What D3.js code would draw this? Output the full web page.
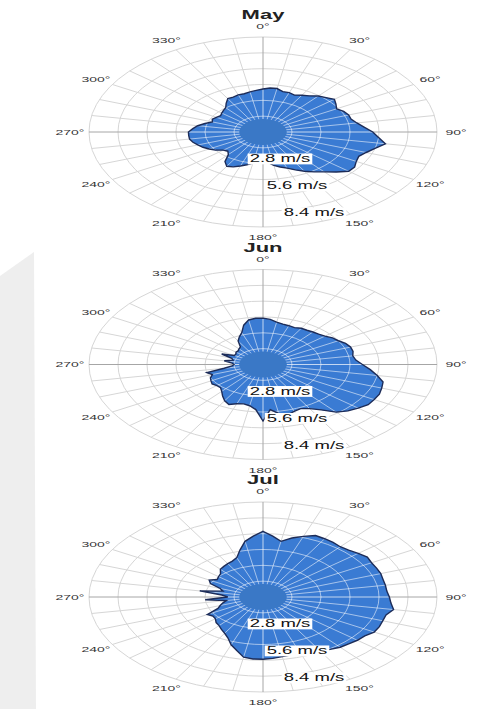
<!DOCTYPE html>
<html>
<head>
<meta charset="utf-8">
<script src="https://cdn.jsdelivr.net/npm/d3@7/dist/d3.min.js"></script>
<style>
  html, body { margin: 0; padding: 0; background: #ffffff; }
  svg { display: block; }
</style>
</head>
<body>
<svg id="chart" width="483" height="709"></svg>
<script>
// Monthly mean wind speed by direction (m/s), one value every 5 degrees, clockwise from north
const months = ["May", "Jun", "Jul"];
const directions = d3.range(0, 360, 5);

const speedMay = [
  3.8, 3.9, 3.9, 3.7, 3.7, 3.6, 3.75, 3.9, 4.15, 4.3, 4.5, 4.3,
  4.1, 4.3, 4.4, 4.4, 4.6, 4.9, 5.3, 5.6, 6.0, 5.6, 5.3, 5.1,
  5.2, 5.4, 5.4, 5.0, 4.6, 4.3, 4.0, 3.7, 3.4, 3.2, 3.0, 2.7,
  2.5, 2.6, 2.8, 3.0, 3.2, 3.4, 3.5, 3.2, 2.6, 2.4, 2.5, 2.8,
  3.0, 3.2, 3.35, 3.5, 3.6, 3.6, 3.6, 3.4, 3.2, 2.9, 2.6, 2.7,
  2.6, 2.5, 2.6, 2.7, 2.8, 3.1, 3.4, 3.4, 3.5, 3.5, 3.6, 3.7
];
const speedJun = [
  4.1, 4.0, 3.8, 3.7, 3.65, 3.6, 3.7, 3.7, 3.75, 3.8, 3.9, 4.1,
  4.2, 4.4, 4.5, 4.5, 4.4, 4.5, 4.8, 5.2, 5.6, 6.0, 6.1, 6.2,
  6.2, 6.2, 6.0, 5.8, 5.5, 4.9, 4.5, 4.3, 4.4, 4.6, 4.4, 4.0,
  5.0, 4.0, 3.7, 3.6, 3.7, 3.9, 3.7, 3.4, 3.1, 2.9, 2.9, 3.0,
  2.9, 2.8, 2.6, 2.8, 1.9, 1.5, 1.4, 1.5, 1.9, 1.5, 1.6, 2.2,
  1.6, 1.6, 1.7, 1.7, 1.8, 1.9, 2.4, 2.7, 3.0, 3.6, 4.0, 4.1
];
const speedJul = [
  5.8, 5.4, 5.0, 5.4, 5.7, 6.0, 5.95, 5.9, 5.8, 5.85, 6.0, 6.15,
  6.05, 6.05, 6.05, 6.0, 6.0, 6.0, 6.1, 6.2, 6.4, 6.15, 6.15, 6.2,
  6.2, 6.0, 5.95, 5.85, 5.8, 5.65, 5.5, 5.4, 5.3, 5.3, 5.35, 5.45,
  5.5, 5.5, 5.4, 4.9, 4.5, 4.0, 3.7, 3.5, 3.3, 3.2, 3.0, 2.95,
  3.1, 2.4, 2.2, 2.0, 1.8, 2.8, 1.7, 2.0, 3.1, 2.0, 2.2, 2.8,
  3.0, 2.7, 2.8, 2.9, 3.2, 3.3, 3.4, 3.5, 3.7, 4.3, 5.0, 5.4
];
const monthSpeeds = [speedMay, speedJun, speedJul];

const calmSpeed = 1.15;                       // radius of the central calm disc
const ringValues = [1.4, 2.8, 4.2, 5.6, 7.0, 8.4];
const ringLabelValues = [2.8, 5.6, 8.4];
const angleTicks = [0, 30, 60, 90, 120, 150, 180, 210, 240, 270, 300, 330];
const spokeAngles = d3.range(0, 360, 10);

// ---- layout ----
const cx = 263;
const centersY = [132, 364.5, 597];
const outerR = 174;          // horizontal radius of the outer ring
const squash = 0.546;        // vertical compression of each rose
const labelR = 193;
const radialLabelAngle = 161;

const rScale = d3.scaleLinear().domain([0, 8.4]).range([0, outerR]);
const toRad = d => d * Math.PI / 180;

const svg = d3.select("#chart");

// pale panel along the left edge
svg.append("path")
  .attr("d", "M0,276 L34,252 L36,709 L0,709 Z")
  .attr("fill", "#eeeeee");

const radialLine = d3.lineRadial()
  .angle(d => toRad(d.dir))
  .radius(d => rScale(d.v))
  .curve(d3.curveLinearClosed);

function drawGrid(g, ringColor, spokeColor, axisColor) {
  g.selectAll("circle.ring").data(ringValues).join("circle")
    .attr("class", "ring")
    .attr("r", d => rScale(d))
    .attr("fill", "none")
    .attr("stroke", ringColor)
    .attr("stroke-width", 1)
    .attr("vector-effect", "non-scaling-stroke");
  g.selectAll("line.spoke").data(spokeAngles).join("line")
    .attr("class", "spoke")
    .attr("x1", 0).attr("y1", 0)
    .attr("x2", d => outerR * Math.sin(toRad(d)))
    .attr("y2", d => -outerR * Math.cos(toRad(d)))
    .attr("stroke", d => d % 90 === 0 ? axisColor : spokeColor)
    .attr("stroke-width", 1)
    .attr("vector-effect", "non-scaling-stroke");
}

months.forEach((month, i) => {
  const data = directions.map((dir, k) => ({dir, v: monthSpeeds[i][k]}));
  const g = svg.append("g")
    .attr("transform", `translate(${cx},${centersY[i]}) scale(1,${squash})`);

  // background grid
  drawGrid(g.append("g"), "#d6d6d6", "#d6d6d6", "#a6a6a6");

  const blobPath = radialLine(data);
  const clipId = "clip-" + month;
  g.append("clipPath").attr("id", clipId)
    .append("path").attr("d", blobPath);

  // filled rose
  g.append("path")
    .attr("d", blobPath)
    .attr("fill", "#3a7bd3");

  // grid seen through the rose
  drawGrid(g.append("g").attr("clip-path", `url(#${clipId})`),
    "rgba(255,255,255,0.55)", "rgba(255,255,255,0.55)", "rgba(255,255,255,0.7)");

  // rose outline
  g.append("path")
    .attr("d", blobPath)
    .attr("fill", "none")
    .attr("stroke", "#1d2c58")
    .attr("stroke-width", 1.4)
    .attr("stroke-linejoin", "miter")
    .attr("vector-effect", "non-scaling-stroke");

  // calm disc
  g.append("circle")
    .attr("r", rScale(calmSpeed))
    .attr("fill", "#3a78c6");

  // direction labels
  g.selectAll("text.dir").data(angleTicks).join("text")
    .attr("class", "dir")
    .attr("x", d => labelR * Math.sin(toRad(d)))
    .attr("y", d => -labelR * Math.cos(toRad(d)))
    .attr("text-anchor", "middle")
    .attr("dominant-baseline", "central")
    .attr("font-family", "Liberation Sans, Arial, sans-serif")
    .attr("font-size", 14)
    .attr("fill", "#333333")
    .text(d => d + "°");

  // speed ring labels with white boxes
  const maxLabelR = rScale(8.4) * 0.9;
  ringLabelValues.forEach(v => {
    const rr = Math.min(rScale(v) * 0.9, maxLabelR);
    const lx = rr * Math.sin(toRad(radialLabelAngle));
    const ly = -rr * Math.cos(toRad(radialLabelAngle));
    const lg = g.append("g");
    const t = lg.append("text")
      .attr("x", lx).attr("y", ly)
      .attr("text-anchor", "middle")
      .attr("dominant-baseline", "central")
      .attr("font-family", "Liberation Sans, Arial, sans-serif")
      .attr("font-size", 18.5)
      .attr("fill", "#111111")
      .text(v.toFixed(1) + " m/s");
    const bb = t.node().getBBox();
    lg.insert("rect", "text")
      .attr("x", bb.x - 2).attr("y", bb.y)
      .attr("width", bb.width + 4).attr("height", bb.height)
      .attr("fill", "#ffffff");
  });

  // month title
  g.append("text")
    .attr("x", 0).attr("y", -214)
    .attr("text-anchor", "middle")
    .attr("dominant-baseline", "central")
    .attr("font-family", "Liberation Sans, Arial, sans-serif")
    .attr("font-weight", "bold")
    .attr("font-size", 22)
    .attr("fill", "#222222")
    .text(month);
});
</script>
</body>
</html>
